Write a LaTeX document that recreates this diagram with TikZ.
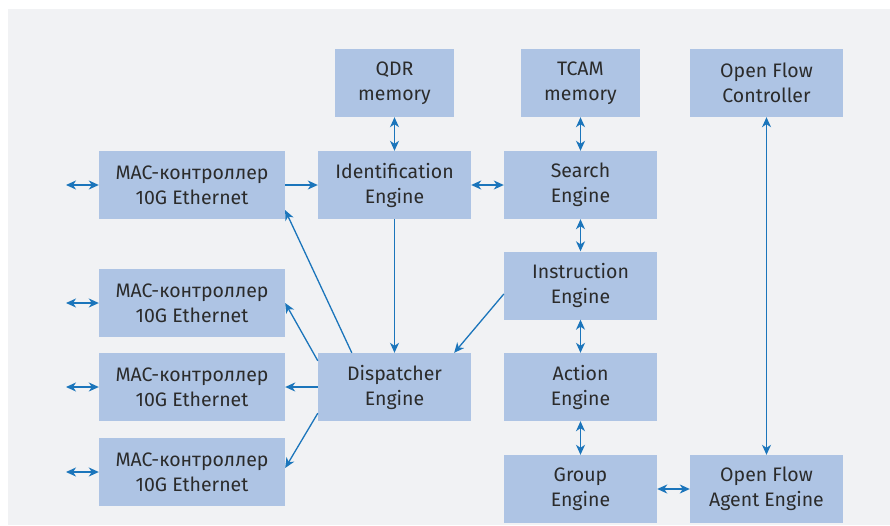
\documentclass[tikz,border=0pt]{standalone}
\usepackage{fontspec}
\setmainfont{Fira Sans}
\usetikzlibrary{arrows.meta}
\definecolor{bgpanel}{HTML}{F1F2F4}
\definecolor{boxfill}{HTML}{AEC4E4}
\definecolor{linkblue}{HTML}{1B75BB}
\definecolor{txt}{HTML}{2B2B2B}
\tikzset{
  x=1pt, y=-1pt,
  block/.style={fill=boxfill, draw=none, inner sep=0pt, text=txt,
    align=center, font=\fontsize{19.5}{25}\selectfont,
    minimum height=68pt, minimum width=153pt},
  memblock/.style={block, minimum width=119pt},
  macblock/.style={block, minimum width=186pt},
  tip/.style={Stealth[length=10pt,width=9pt,inset=3pt]},
  link/.style={draw=linkblue, line width=1.3pt, -{Stealth[length=10pt,width=9pt,inset=3pt]}},
  duplex/.style={link, {Stealth[length=10pt,width=9pt,inset=3pt]}-{Stealth[length=10pt,width=9pt,inset=3pt]}}
}
\begin{document}
\begin{tikzpicture}
  % canvas and panel
  \useasboundingbox (0,0) rectangle (890,525);
  \fill[white] (0,0) rectangle (890,525);
  \fill[bgpanel] (8,9) rectangle (890,525);

  % memories and controller
  \node[memblock] (qdr)  at (394.5,83) {QDR\\memory};
  \node[memblock] (tcam) at (580.5,83) {TCAM\\memory};
  \node[block]    (ofc)  at (766.5,83) {Open Flow\\Controller};

  % pipeline engines
  \node[block] (ident) at (394.5,185) {Identification\\Engine};
  \node[block] (search) at (580.5,185) {Search\\Engine};
  \node[block] (instr) at (580.5,285.5) {Instruction\\Engine};
  \node[block] (action) at (580.5,387) {Action\\Engine};
  \node[block] (group) at (580.5,489) {Group\\Engine};
  \node[block] (ofa) at (766.5,489) {Open Flow\\Agent Engine};
  \node[block] (disp) at (394.5,387) {Dispatcher\\Engine};

  % MAC controllers
  \node[macblock] (mac1) at (192,185) {MAC-контроллер\\10G Ethernet};
  \node[macblock] (mac2) at (192,303) {MAC-контроллер\\10G Ethernet};
  \node[macblock] (mac3) at (192,387) {MAC-контроллер\\10G Ethernet};
  \node[macblock] (mac4) at (192,472) {MAC-контроллер\\10G Ethernet};

  % external ports
  \coordinate (port1) at (66,185);
  \coordinate (port2) at (66,303);
  \coordinate (port3) at (66,387);
  \coordinate (port4) at (66,472);
  \draw[duplex] (port1) -- (mac1);
  \draw[duplex] (port2) -- (mac2);
  \draw[duplex] (port3) -- (mac3);
  \draw[duplex] (port4) -- (mac4);

  % data paths
  \draw[link] (mac1) -- (ident);
  \draw[duplex] (ident) -- (search);
  \draw[duplex] (qdr) -- (ident);
  \draw[duplex] (tcam) -- (search);
  \draw[duplex] (search) -- (instr);
  \draw[duplex] (instr) -- (action);
  \draw[duplex] (action) -- (group);
  \draw[duplex] (group) -- (ofa);
  \draw[duplex] (ofc) -- (ofa);
  \draw[link] (ident) -- (disp);
  \draw[link] ([yshift=-8.5pt]instr.west) -- ([xshift=-17pt]disp.north east);

  % dispatcher fan-out
  \draw[link] ([xshift=34pt]disp.north west) -- ([yshift=9pt]mac1.south east);
  \draw[link] ([yshift=-8pt]disp.north west) -- (mac2.east);
  \draw[link] (disp.west) -- (mac3.east);
  \draw[link] ([yshift=8pt]disp.south west) -- ([yshift=4pt]mac4.east);
\end{tikzpicture}
\end{document}
